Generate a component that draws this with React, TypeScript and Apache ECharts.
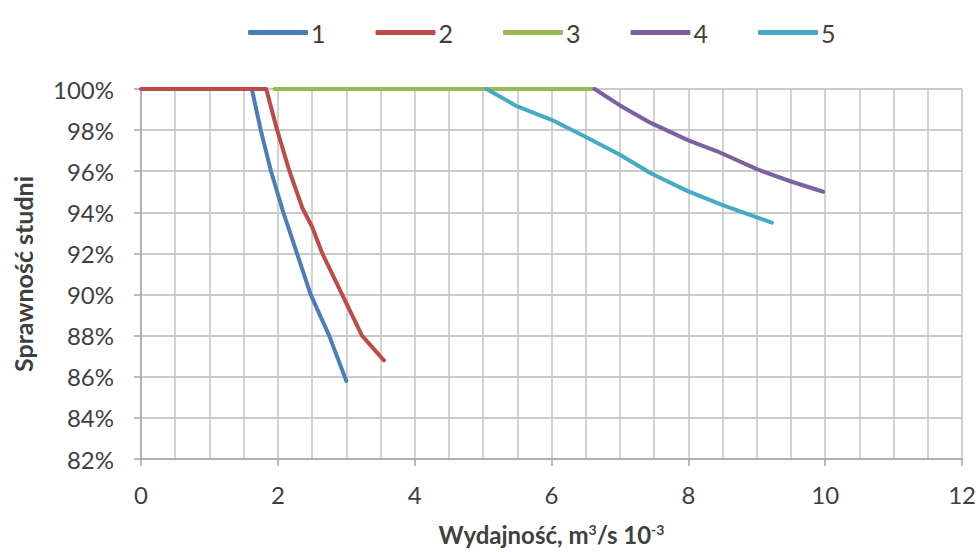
import React, { useEffect, useRef } from "react";
import * as echarts from "echarts";

const seriesNames = ["1", "2", "3", "4", "5"];
const colors = ["#4a7ebb", "#be4b48", "#98b954", "#7d60a0", "#46aac5"];

const s1: [number, number][] = [[1.62, 100], [1.75, 98], [1.9, 96], [2.08, 94], [2.22, 92.6], [2.48, 90], [2.75, 88], [3.0, 85.8]];
const s2: [number, number][] = [[0, 100], [1.83, 100], [1.99, 98], [2.17, 96], [2.36, 94.2], [2.5, 93.3], [2.65, 92], [2.94, 90], [3.23, 88], [3.55, 86.8]];
const s3: [number, number][] = [[1.95, 100], [6.63, 100]];
const s4: [number, number][] = [[6.63, 100], [7.0, 99.2], [7.45, 98.35], [8.0, 97.5], [8.42, 96.97], [9.0, 96.1], [9.5, 95.5], [9.97, 95.0]];
const s5: [number, number][] = [[5.05, 100], [5.5, 99.15], [6.0, 98.5], [6.48, 97.7], [7.0, 96.8], [7.45, 95.9], [7.99, 95.03], [8.5, 94.35], [9.22, 93.5]];
const allSeries = [s1, s2, s3, s4, s5];

const yTicks = [82, 84, 86, 88, 90, 92, 94, 96, 98, 100];
const xTicks = [0, 2, 4, 6, 8, 10, 12];

const xTitle = "Wydajność, m{sup|3}/s 10{sup|-3}";
const yTitle = "Sprawność studni";

const FONT = "Lato";
const TXT = "#3f3f3f";

export default function App() {
  const ref = useRef<HTMLDivElement>(null);
  useEffect(() => {
    if (!ref.current) return;
    const chart = echarts.init(ref.current, undefined, { renderer: "svg" });
    chart.setOption({
      animation: false,
      backgroundColor: "#ffffff",
      textStyle: { fontFamily: FONT },
      legend: {
        top: 15,
        left: 243,
        itemWidth: 60,
        itemHeight: 5,
        itemGap: 50,
        icon: "roundRect",
        textStyle: { fontFamily: FONT, fontSize: 25, color: TXT, padding: [0, 0, 0, -2] },
        data: seriesNames,
      },
      grid: { left: 141, right: 13, top: 89, bottom: 93 },
      xAxis: {
        type: "value",
        min: xTicks[0],
        max: xTicks[xTicks.length - 1],
        interval: 2,
        name: xTitle,
        nameLocation: "middle",
        nameGap: 63,
        nameTextStyle: {
          fontFamily: FONT,
          fontSize: 24,
          fontWeight: "bold",
          color: TXT,
          rich: {
            sup: { fontFamily: FONT, fontSize: 14, fontWeight: "bold", color: TXT, verticalAlign: "top", padding: [0, 0, 10, 0] },
          },
        },
        axisLine: { show: true, lineStyle: { color: "#a6a6a6", width: 1.5 } },
        axisTick: { show: true, length: 7, lineStyle: { color: "#a6a6a6", width: 1.5 } },
        axisLabel: { fontFamily: FONT, fontSize: 24, color: TXT, margin: 23 },
        splitLine: { show: true, lineStyle: { color: "#c4c4c4", width: 1.5 } },
        minorTick: { show: false, splitNumber: 4 },
        minorSplitLine: { show: true, lineStyle: { color: "#c4c4c4", width: 1.5 } },
      },
      yAxis: {
        type: "value",
        min: yTicks[0],
        max: yTicks[yTicks.length - 1],
        interval: 2,
        name: yTitle,
        nameLocation: "middle",
        nameGap: 106,
        nameRotate: 90,
        nameTextStyle: { fontFamily: FONT, fontSize: 25, fontWeight: "bold", color: TXT },
        axisLine: { show: true, lineStyle: { color: "#a6a6a6", width: 1.5 } },
        axisTick: { show: true, length: 7, lineStyle: { color: "#a6a6a6", width: 1.5 } },
        axisLabel: { fontFamily: FONT, fontSize: 24, color: TXT, margin: 27, formatter: "{value}%" },
        splitLine: { show: true, lineStyle: { color: "#b8b8b8", width: 1.5 } },
      },
      series: allSeries.map((d, i) => ({
        name: seriesNames[i],
        type: "line",
        data: d,
        showSymbol: false,
        symbol: "none",
        smooth: false,
        lineStyle: { color: colors[i], width: 4, cap: "round", join: "round" },
        itemStyle: { color: colors[i] },
        z: i === 1 ? 3 : 2,
      })),
    });
    return () => chart.dispose();
  }, []);
  return <div ref={ref} style={{ position: "fixed", left: 0, top: 0, width: 979, height: 552 }} />;
}
